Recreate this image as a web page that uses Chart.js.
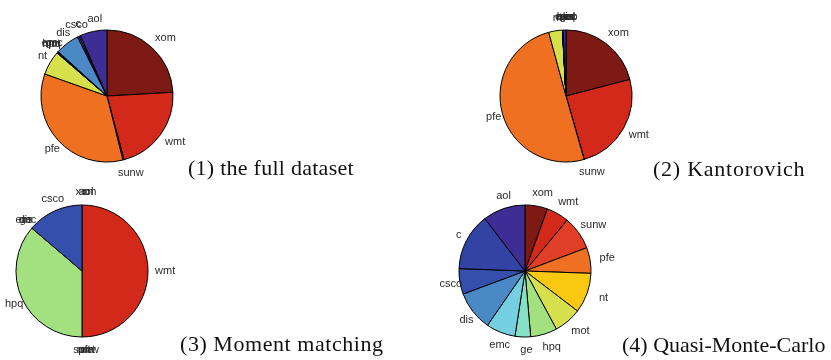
<!DOCTYPE html>
<html>
<head>
<meta charset="utf-8">
<script src="https://cdn.jsdelivr.net/npm/chart.js@4"></script>
<style>
  html, body { margin: 0; padding: 0; background: #fff; }
  body { width: 831px; height: 360px; position: relative; overflow: hidden; }
  .pie { position: absolute; width: 260px; height: 180px; }
  .cap { position: absolute; font-family: "Liberation Serif", "Times New Roman", serif; font-size: 22px; line-height: 22px; color: #111; white-space: nowrap; }
</style>
</head>
<body>
<canvas id="p1" class="pie" width="260" height="180" style="left:-23px;top:6px"></canvas>
<canvas id="p2" class="pie" width="260" height="180" style="left:436px;top:6px"></canvas>
<canvas id="p3" class="pie" width="260" height="180" style="left:-48.5px;top:181px"></canvas>
<canvas id="p4" class="pie" width="260" height="180" style="left:395px;top:181px"></canvas>
<div class="cap" style="left:188px;top:156.6px;letter-spacing:0.26px">(1) the full dataset</div>
<div class="cap" style="left:653px;top:158px;letter-spacing:0.75px">(2) Kantorovich</div>
<div class="cap" style="left:180px;top:333.3px;letter-spacing:0.55px">(3) Moment matching</div>
<div class="cap" style="left:622px;top:333.6px">(4) Quasi-Monte-Carlo</div>
<script>
// Categories, clockwise from 12 o'clock
const categories = ['xom','wmt','sunw','pfe','nt','mot','hpq','ge','emc','dis','csco','c','aol'];
const sliceColors = ['#7d1a14','#d2291b','#e03e26','#ef7021','#f9c912','#d6e04c','#a3e07f','#86e0c6','#74cfe0','#4a89c6','#3550ac','#3343a3','#3e2d94'];
// in panels (1) and (2) the nt slice is drawn yellow-green
const sliceColorsReduced = sliceColors.map((c, i) => categories[i] === 'nt' ? '#d6e04c' : c);

// Probabilities (%) per scenario set
const fullDataset    = [24.2, 21.8, 0.3, 34.4, 5.9, 0.15, 0.1, 0.1, 0.1, 5.9, 0.4, 0.4, 6.6];
const kantorovich    = [21.0, 24.6, 0.05, 50.3, 3.36, 0.02, 0.02, 0.02, 0.02, 0.02, 0.02, 0.02, 0.72];
const momentMatching = [0, 50.0, 0, 0, 0, 0, 36.25, 0, 0, 0, 13.75, 0, 0];
const quasiMonteCarlo= [5.5, 5.5, 8.25, 6.3, 9.8, 6.75, 6.5, 3.8, 7.2, 9.7, 6.25, 14.0, 10.4];

const labelPlugin = {
  id: 'pieLabels',
  afterDatasetsDraw(chart) {
    const ctx = chart.ctx;
    const meta = chart.getDatasetMeta(0);
    ctx.save();
    ctx.font = '11px "Liberation Sans", Arial, sans-serif';
    ctx.fillStyle = '#2a2a2a';
    ctx.textAlign = 'center';
    ctx.textBaseline = 'middle';
    meta.data.forEach((arc, i) => {
      const p = arc.getProps(['x','y','startAngle','endAngle','outerRadius'], true);
      const mid = (p.startAngle + p.endAngle) / 2;
      const r = p.outerRadius * 1.2;
      ctx.fillText(chart.data.labels[i], p.x + Math.cos(mid) * r + 4, p.y + Math.sin(mid) * r);
    });
    ctx.restore();
  }
};

function makePie(id, values, colors) {
  new Chart(document.getElementById(id), {
    type: 'pie',
    data: {
      labels: categories,
      datasets: [{
        data: values,
        backgroundColor: colors,
        borderColor: '#000',
        borderWidth: 1,
        hoverOffset: 0,
        offset: 0
      }]
    },
    options: {
      responsive: false,
      animation: false,
      radius: 66,
      layout: { padding: 0 },
      plugins: { legend: { display: false }, tooltip: { enabled: false }, title: { display: false } },
      events: []
    },
    plugins: [labelPlugin]
  });
}

makePie('p1', fullDataset, sliceColorsReduced);
makePie('p2', kantorovich, sliceColorsReduced);
makePie('p3', momentMatching, sliceColors);
makePie('p4', quasiMonteCarlo, sliceColors);
</script>
</body>
</html>
